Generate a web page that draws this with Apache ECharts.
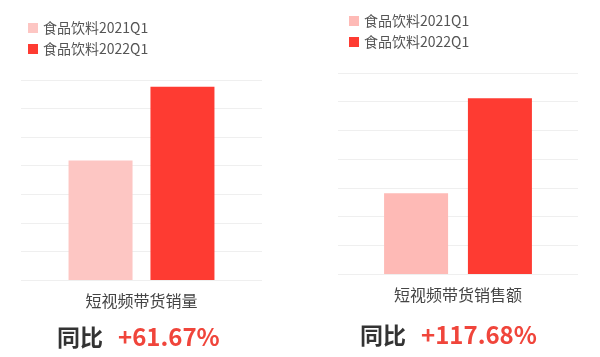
<!DOCTYPE html>
<html><head><meta charset="utf-8">
<script src="https://cdn.jsdelivr.net/npm/echarts@6/dist/echarts.min.js"></script>
<style>html,body{margin:0;padding:0;background:#fff}#c{width:600px;height:357px}</style>
</head><body><div id="c"></div>
<script>
const seriesNames = ['食品饮料2021Q1', '食品饮料2022Q1'];
const categoriesLeft = ['短视频带货销量'];
const categoriesRight = ['短视频带货销售额'];
const leftValues2021 = [4.18];
const leftValues2022 = [6.76];
const rightValues2021 = [2.81];
const rightValues2022 = [6.12];
const growthLeft = '+61.67%';
const growthRight = '+117.68%';

const FONT = 'Noto Sans CJK SC';
const lightL = '#FDC6C3', lightR = '#FEBAB6', red = '#FE3B32';
const chart = echarts.init(document.getElementById('c'), null, {renderer: 'canvas'});

function legend(left, top, light) {
  return {
    left: left, top: top, orient: 'vertical', itemWidth: 10, itemHeight: 10, itemGap: 7,
    icon: 'rect', selectedMode: false, padding: 0,
    textStyle: {fontFamily: FONT, fontSize: 14, color: '#555'},
    data: [
      {name: seriesNames[0], itemStyle: {color: light}},
      {name: seriesNames[1], itemStyle: {color: red}}
    ]
  };
}
function yAx(idx) {
  return {gridIndex: idx, type: 'value', min: 0, max: 7, interval: 1,
    axisLabel: {show: false}, axisLine: {show: false}, axisTick: {show: false},
    splitLine: {lineStyle: {color: '#efefef', width: 1}}};
}
function xAx(idx, cats, margin) {
  return {gridIndex: idx, type: 'category', data: cats,
    axisLine: {show: false}, axisTick: {show: false},
    axisLabel: {margin: margin, fontFamily: FONT, fontSize: 16, color: '#444'}};
}
function title(left, top, val) {
  return {left: left, top: top,
    text: '{a|同比}{b|' + val + '}',
    textStyle: {rich: {
      a: {fontFamily: FONT, fontSize: 23, fontWeight: 'bold', color: '#333'},
      b: {fontFamily: FONT, fontSize: 24, fontWeight: 'bold', color: '#F0453B', padding: [0, 0, 0, 15]}
    }}};
}

chart.setOption({
  animation: false,
  title: [title(52, 320, growthLeft), title(355, 318, growthRight)],
  legend: [legend(28, 21, lightL), legend(349, 14, lightR)],
  grid: [
    {left: 21, right: 338, top: 80, bottom: 77},
    {left: 338, right: 22, top: 73, bottom: 83}
  ],
  xAxis: [xAx(0, categoriesLeft, 13), xAx(1, categoriesRight, 13)],
  yAxis: [yAx(0), yAx(1)],
  series: [
    {name: seriesNames[0], type: 'bar', xAxisIndex: 0, yAxisIndex: 0, data: leftValues2021,
     barWidth: 64, barGap: '28%', itemStyle: {color: lightL}},
    {name: seriesNames[1], type: 'bar', xAxisIndex: 0, yAxisIndex: 0, data: leftValues2022,
     barWidth: 64, barGap: '28%', itemStyle: {color: red}},
    {name: seriesNames[0], type: 'bar', xAxisIndex: 1, yAxisIndex: 1, data: rightValues2021,
     barWidth: 64, barGap: '31%', itemStyle: {color: lightR}},
    {name: seriesNames[1], type: 'bar', xAxisIndex: 1, yAxisIndex: 1, data: rightValues2022,
     barWidth: 64, barGap: '31%', itemStyle: {color: red}}
  ]
});
</script></body></html>
